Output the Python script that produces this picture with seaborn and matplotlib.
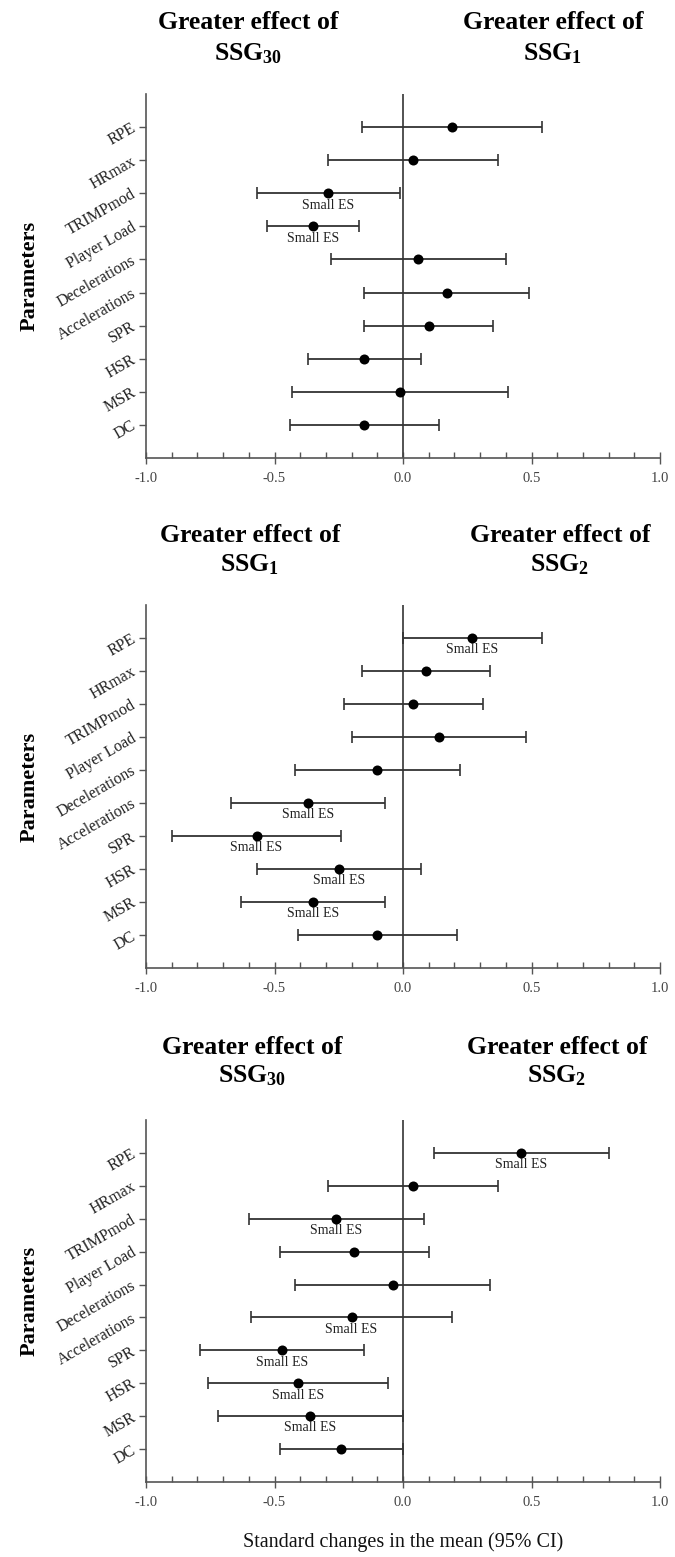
import numpy as np
import pandas as pd
import matplotlib
matplotlib.use("Agg")
import matplotlib.pyplot as plt
import seaborn as sns

params = ['RPE', 'HRmax', 'TRIMPmod', 'Player Load', 'Decelerations',
          'Accelerations', 'SPR', 'HSR', 'MSR', 'DC']

# SSG30 vs SSG1
mean_a = [0.19, 0.04, -0.29, -0.35, 0.06, 0.17, 0.10, -0.15, -0.01, -0.15]
low_a = [-0.16, -0.29, -0.57, -0.53, -0.28, -0.15, -0.15, -0.37, -0.43, -0.44]
high_a = [0.54, 0.37, -0.01, -0.17, 0.40, 0.49, 0.35, 0.07, 0.41, 0.14]
small_a = [0, 0, 1, 1, 0, 0, 0, 0, 0, 0]

# SSG1 vs SSG2
mean_b = [0.27, 0.09, 0.04, 0.14, -0.10, -0.37, -0.57, -0.25, -0.35, -0.10]
low_b = [0.00, -0.16, -0.23, -0.20, -0.42, -0.67, -0.90, -0.57, -0.63, -0.41]
high_b = [0.54, 0.34, 0.31, 0.48, 0.22, -0.07, -0.24, 0.07, -0.07, 0.21]
small_b = [1, 0, 0, 0, 0, 1, 1, 1, 1, 0]

# SSG30 vs SSG2
mean_c = [0.46, 0.04, -0.26, -0.19, -0.04, -0.20, -0.47, -0.41, -0.36, -0.24]
low_c = [0.12, -0.29, -0.60, -0.48, -0.42, -0.59, -0.79, -0.76, -0.72, -0.48]
high_c = [0.80, 0.37, 0.08, 0.10, 0.34, 0.19, -0.15, -0.06, 0.00, 0.00]
small_c = [1, 0, 1, 0, 0, 1, 1, 1, 1, 0]

heads_left = [r'$\mathbf{SSG_{30}}$', r'$\mathbf{SSG_{1}}$', r'$\mathbf{SSG_{30}}$']
heads_right = [r'$\mathbf{SSG_{1}}$', r'$\mathbf{SSG_{2}}$', r'$\mathbf{SSG_{2}}$']

sns.set_theme(style="ticks")
plt.rcParams['font.family'] = ['Liberation Serif', 'DejaVu Serif']
plt.rcParams['mathtext.fontset'] = 'custom'
plt.rcParams['mathtext.bf'] = 'Liberation Serif:bold'
plt.rcParams['mathtext.rm'] = 'Liberation Serif'

W, H = 675, 1557
fig = plt.figure(figsize=(W / 100, H / 100), dpi=100)

# (means, lows, highs, small ES flags, axes top px, axes bottom px, header x px, header baselines px)
panels = [
    (mean_a, low_a, high_a, small_a, 94, 458, (248, 553), (29, 60)),
    (mean_b, low_b, high_b, small_b, 605, 968, (250, 560), (542, 571)),
    (mean_c, low_c, high_c, small_c, 1120, 1482, (252, 557), (1054, 1082)),
]

ax_left, ax_right = 146, 660
line_col = '#333333'

for i, (m, lo, hi, sm, top, bot, hx, hy) in enumerate(panels):
    ax = fig.add_axes([ax_left / W, (H - bot) / H, (ax_right - ax_left) / W, (bot - top) / H])
    df = pd.DataFrame({'param': params, 'pos': np.arange(len(params)),
                       'mean': m, 'low': lo, 'high': hi, 'small': sm})

    ax.axvline(0, color='#444444', lw=1.3, zorder=1)
    ax.errorbar(df['mean'], df['pos'],
                xerr=[df['mean'] - df['low'], df['high'] - df['mean']],
                fmt='none', ecolor=line_col, elinewidth=1.3,
                capsize=4, capthick=1.2, zorder=2)
    sns.scatterplot(data=df, x='mean', y='pos', color='black', s=52,
                    edgecolor='black', linewidth=0, ax=ax, zorder=3, legend=False)

    for _, r in df[df['small'] == 1].iterrows():
        ax.annotate('Small ES', (r['mean'], r['pos']), xytext=(0, -8.5),
                    textcoords='offset points', ha='center', va='center',
                    fontsize=10, color='#222222')

    ax.set_xlim(-1, 1)
    ax.set_ylim(len(params), -1)
    ax.set_yticks(df['pos'])
    ax.set_yticklabels(params, rotation=30, ha='right', va='center',
                       rotation_mode='anchor', fontsize=11.5, color='#222222')
    ax.set_xticks([-1, -0.5, 0, 0.5, 1])
    ax.set_xticklabels(['-1.0', '-0.5', '0.0', '0.5', '1.0'], fontsize=10.5, color='#444444')
    ax.set_xticks(np.arange(-1, 1.001, 0.1), minor=True)
    ax.tick_params(axis='x', which='major', direction='inout', length=8, width=1, color='#555555', pad=6)
    ax.tick_params(axis='x', which='minor', direction='in', length=4, width=1, color='#555555')
    ax.tick_params(axis='y', which='major', direction='out', length=5, width=1, color='#555555', pad=3)
    for s in ['top', 'right']:
        ax.spines[s].set_visible(False)
    for s in ['left', 'bottom']:
        ax.spines[s].set_color('#555555')
        ax.spines[s].set_linewidth(1.2)

    ax.set_xlabel('')
    ax.set_ylabel('Parameters', fontsize=16, fontweight='bold', color='black', va='center')
    ax.yaxis.set_label_coords((30 - ax_left) / (ax_right - ax_left), 0.5)

    for x, lab in zip(hx, [heads_left[i], heads_right[i]]):
        fig.text(x / W, 1 - hy[0] / H, 'Greater effect of', ha='center', va='baseline',
                 fontsize=18.5, fontweight='bold', color='black')
        fig.text(x / W, 1 - hy[1] / H, lab, ha='center', va='baseline', fontsize=18.5,
                 color='black')

    if i == 2:
        ax.set_xlabel('Standard changes in the mean (95% CI)', fontsize=14.5, color='#111111')
        ax.xaxis.set_label_coords(0.5, -(1532 - bot) / (bot - top))

fig.savefig('out.png', dpi=100)
